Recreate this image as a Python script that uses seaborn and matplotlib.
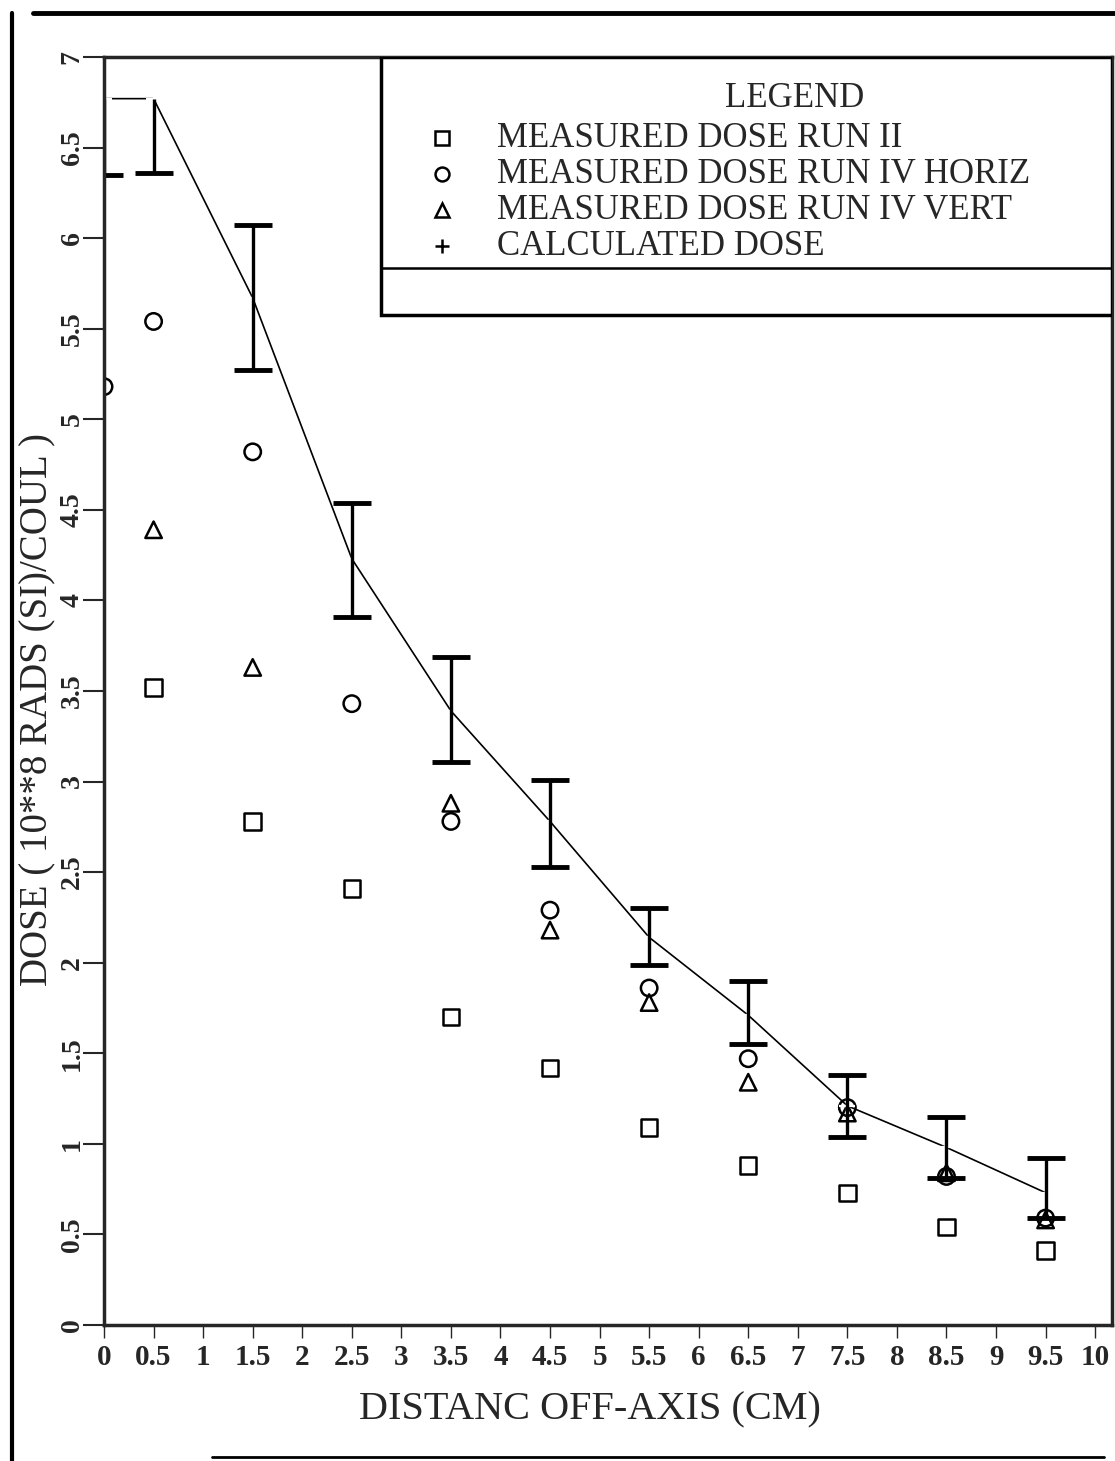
import numpy as np
import pandas as pd
import matplotlib
matplotlib.use('Agg')
import matplotlib.pyplot as plt
import seaborn as sns
from matplotlib.lines import Line2D
from matplotlib.patches import Rectangle

sns.set_style('ticks')
plt.rcParams['font.family'] = ['Liberation Serif', 'DejaVu Serif']

# --- data ---
x_pos = [0.0, 0.5, 1.5, 2.5, 3.5, 4.5, 5.5, 6.5, 7.5, 8.5, 9.5]

calc_dose = [6.77, 6.77, 5.67, 4.23, 3.39, 2.78, 2.14, 1.71, 1.21, 0.98, 0.73]
calc_err_lo = [0.42, 0.41, 0.40, 0.32, 0.28, 0.25, 0.15, 0.16, 0.17, 0.17, 0.14]
calc_err_hi = [0.00, 0.00, 0.40, 0.31, 0.30, 0.23, 0.16, 0.19, 0.17, 0.17, 0.19]

run2_x = [0.5, 1.5, 2.5, 3.5, 4.5, 5.5, 6.5, 7.5, 8.5, 9.5]
run2_dose = [3.52, 2.78, 2.41, 1.70, 1.42, 1.09, 0.88, 0.73, 0.54, 0.41]

horiz_x = [0.0, 0.5, 1.5, 2.5, 3.5, 4.5, 5.5, 6.5, 7.5, 8.5, 9.5]
horiz_dose = [5.18, 5.54, 4.82, 3.43, 2.78, 2.29, 1.86, 1.47, 1.20, 0.82, 0.59]

vert_x = [0.5, 1.5, 3.5, 4.5, 5.5, 6.5, 7.5, 8.5, 9.5]
vert_dose = [4.39, 3.63, 2.88, 2.18, 1.78, 1.34, 1.17, 0.84, 0.58]

x_ticks = np.arange(0, 10.01, 0.5)
y_ticks = np.arange(0, 7.01, 0.5)

legend_labels = ['MEASURED DOSE RUN II', 'MEASURED DOSE RUN IV HORIZ',
                 'MEASURED DOSE RUN IV VERT', 'CALCULATED DOSE']

measured = pd.concat([
    pd.DataFrame({'x': run2_x, 'dose': run2_dose, 'series': legend_labels[0]}),
    pd.DataFrame({'x': horiz_x, 'dose': horiz_dose, 'series': legend_labels[1]}),
    pd.DataFrame({'x': vert_x, 'dose': vert_dose, 'series': legend_labels[2]}),
])
calc = pd.DataFrame({'x': x_pos, 'dose': calc_dose,
                     'lo': np.array(calc_dose) - np.array(calc_err_lo),
                     'hi': np.array(calc_dose) + np.array(calc_err_hi)})

fig = plt.figure(figsize=(11.15, 14.61), dpi=100)
ax = fig.add_axes([0.0933, 0.0931, 0.9040, 0.8679])

marker_map = {legend_labels[0]: 's', legend_labels[1]: 'o', legend_labels[2]: '^'}
sns.scatterplot(data=measured, x='x', y='dose', hue='series', style='series',
                markers=marker_map, palette=['black'] * 3, s=140,
                linewidth=1.8, legend=False, ax=ax)
# open markers
for coll in ax.collections:
    coll.set_facecolor('none')
    coll.set_edgecolor('black')

sns.lineplot(data=calc, x='x', y='dose', color='black', lw=1.2,
             marker='+', markersize=11, markeredgewidth=1.6, ax=ax)

# error bars: vertical bar plus a cap only where the error is non-zero
ax.vlines(calc['x'], calc['lo'], calc['hi'], color='black', lw=2.4)
lo_caps = calc[np.array(calc_err_lo) > 0]
hi_caps = calc[np.array(calc_err_hi) > 0]
ax.plot(lo_caps['x'], lo_caps['lo'], ls='none', marker='_', ms=28, mew=3.5, color='black')
ax.plot(hi_caps['x'], hi_caps['hi'], ls='none', marker='_', ms=28, mew=3.5, color='black')

ax.set_xlim(0, 10.17)
ax.set_ylim(0, 7)
ax.set_xticks(x_ticks)
ax.set_xticklabels([f'{v:g}' for v in x_ticks], fontsize=21, fontweight='bold')
ax.set_yticks(y_ticks)
ax.set_yticklabels([f'{v:g}' for v in y_ticks], fontsize=20, fontweight='bold',
                   rotation=90, va='center')
ax.tick_params(axis='x', length=9, width=1, pad=5, direction='out')
ax.tick_params(axis='y', length=15, width=1.5, pad=-1, direction='out')
for side in ['top', 'right', 'left', 'bottom']:
    ax.spines[side].set_linewidth(2.5)
    ax.spines[side].set_visible(True)

ax.set_xlabel('DISTANC OFF-AXIS (CM)', fontsize=29)
ax.xaxis.set_label_coords(0.482, -0.052)
ax.set_ylabel('DOSE ( 10**8 RADS (SI)/COUL )', fontsize=28)
ax.yaxis.set_label_coords(-0.066, 0.485)
ax.yaxis.label.set_verticalalignment('center')

# legend box drawn as in the original plot
box_left, box_bottom = 0.275, 0.7964
ax.add_patch(Rectangle((box_left, box_bottom), 1 - box_left, 1 - box_bottom,
                       transform=ax.transAxes, facecolor='white',
                       edgecolor='black', lw=2.5, zorder=5))
ax.text(0.685, 0.9675, 'LEGEND', transform=ax.transAxes, fontsize=25,
        ha='center', va='center', zorder=6)
row_y = [0.9361, 0.9077, 0.8793, 0.8509]
leg_markers = ['s', 'o', '^', '+']
for yy, mk, lab in zip(row_y, leg_markers, legend_labels):
    ax.plot([0.335], [yy], marker=mk, transform=ax.transAxes, color='black',
            mfc='none', mew=1.8, ms=10, zorder=6, clip_on=False)
    ax.text(0.390, yy, lab, transform=ax.transAxes, fontsize=25,
            ha='left', va='center', zorder=6)
ax.plot([box_left, 1.0], [0.8336, 0.8336], transform=ax.transAxes,
        color='black', lw=1.8, zorder=6)

# scanned page frame
fig.add_artist(Line2D([0.03, 1.0], [0.991, 0.991], color='black', lw=3.5))
fig.add_artist(Line2D([0.011, 0.011], [0.0, 0.991], color='black', lw=3))
fig.add_artist(Line2D([0.19, 0.99], [0.003, 0.003], color='black', lw=2))

fig.savefig('out.png', dpi=100)
